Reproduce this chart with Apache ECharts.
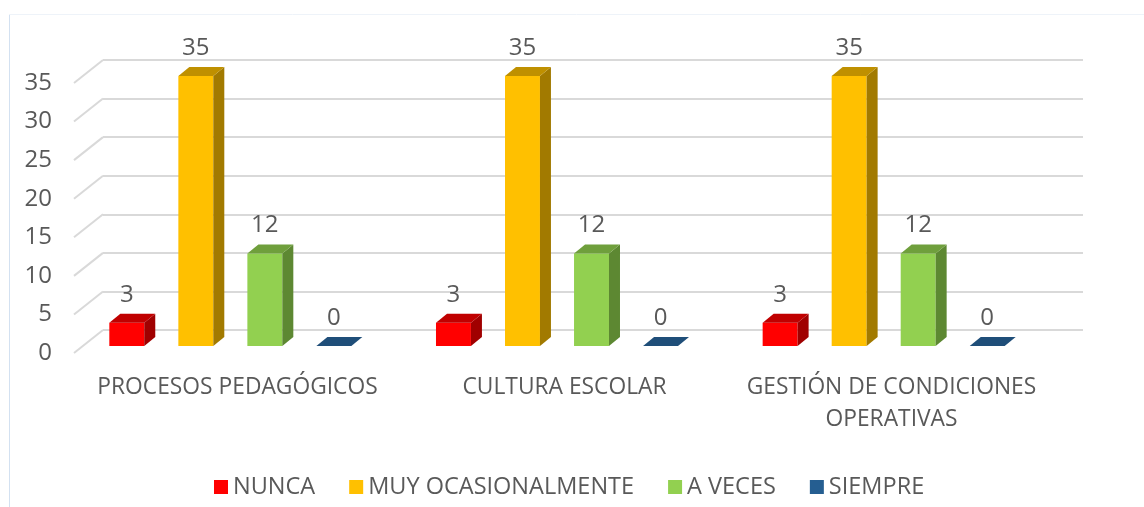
<!DOCTYPE html>
<html>
<head>
<meta charset="utf-8">
<script src="https://cdn.jsdelivr.net/npm/echarts@6/dist/echarts.min.js"></script>
<style>
html, body { margin: 0; padding: 0; background: #ffffff; }
#chart { width: 1144px; height: 507px; }
</style>
</head>
<body>
<div id="chart"></div>
<script>
const categories = ["PROCESOS PEDAGÓGICOS", "CULTURA ESCOLAR", "GESTIÓN DE CONDICIONES\nOPERATIVAS"];
const seriesNames = ["NUNCA", "MUY OCASIONALMENTE", "A VECES", "SIEMPRE"];
const nunca = [3, 3, 3];
const muyOcasionalmente = [35, 35, 35];
const aVeces = [12, 12, 12];
const siempre = [0, 0, 0];
const yTicks = [0, 5, 10, 15, 20, 25, 30, 35];

const textColor = "#595959";
const font = '"Open Sans"';

// front, top, side
const palette = [
    ["#ff0000", "#c00000", "#a00000"],
    ["#ffc000", "#bf9000", "#a27a00"],
    ["#92d050", "#6f9f3c", "#5d8832"],
    ["#255e91", "#1f4e79", "#1a4266"]
];

const chart = echarts.init(document.getElementById("chart"));

/*
   3D looking bar: front face, right side, top
*/
function barRenderer(idx){
    return function(params, api){
        const ci = api.value(0);
        const v = api.value(1);
        const top = api.coord([ci, v]);
        const base = api.coord([ci, 0]);
        const band = api.size([1, 0])[0];
        const w = band * 0.107;
        const cx = top[0] + (idx - 1.5) * band * 0.2113;
        const x0 = cx - w / 2, x1 = cx + w / 2;
        const yt = top[1], yb = base[1];
        const dx = 11, dy = 9;
        const c = palette[idx];
        const children = [];
        if (yb - yt > 0.5) {
            children.push({
                type: "rect",
                shape: { x: x0, y: yt, width: w, height: yb - yt },
                style: { fill: c[0] }
            });
            children.push({
                type: "polygon",
                shape: { points: [[x1, yt], [x1 + dx, yt - dy], [x1 + dx, yb - dy], [x1, yb]] },
                style: { fill: c[2] }
            });
        }
        children.push({
            type: "polygon",
            shape: { points: [[x0, yt], [x0 + dx, yt - dy], [x1 + dx, yt - dy], [x1, yt]] },
            style: { fill: c[1] }
        });
        children.push({
            type: "text",
            style: {
                text: String(v),
                x: cx,
                y: yt - 28,
                align: "center",
                verticalAlign: "middle",
                textAlign: "center",
                textVerticalAlign: "middle",
                fill: textColor,
                font: "24px " + font
            }
        });
        return { type: "group", children: children };
    };
}

const values = [nunca, muyOcasionalmente, aVeces, siempre];

const barSeries = values.map((arr, idx) => ({
    name: seriesNames[idx],
    type: "custom",
    xAxisIndex: 2,
    yAxisIndex: 2,
    itemStyle: { color: palette[idx][0] },
    renderItem: barRenderer(idx),
    encode: { x: 0, y: 1 },
    data: arr.map((v, i) => [i, v]),
    z: 3
}));

chart.setOption({

    animation: false,

    graphic: [
        {
            type: "line",
            shape: { x1: 9.5, y1: 14, x2: 9.5, y2: 507 },
            style: { stroke: "#d3e1f1", lineWidth: 1 }
        },
        {
            type: "line",
            shape: { x1: 9, y1: 14.5, x2: 1144, y2: 14.5 },
            style: { stroke: "#eef3f9", lineWidth: 1 }
        }
    ],

    legend: {
        data: seriesNames,
        left: 209,
        top: 470,
        icon: "rect",
        itemWidth: 14,
        itemHeight: 14,
        itemGap: 34,
        textStyle: {
            color: textColor,
            fontFamily: font,
            fontSize: 23.5
        }
    },

    grid: [
        // back wall
        { left: 103, right: 61, top: 60, height: 270 },
        // front plane, for axis labels
        { left: 74, right: 89, top: 83, height: 270 },
        // bar plane
        { left: 67, right: 97, top: 76, height: 270 }
    ],

    xAxis: [
        { gridIndex: 0, type: "category", data: categories, show: false },
        {
            gridIndex: 1,
            type: "category",
            data: categories,
            axisLine: { show: false },
            axisTick: { show: false },
            axisLabel: {
                color: textColor,
                fontFamily: font,
                fontSize: 22.8,
                lineHeight: 32,
                margin: 19,
                interval: 0
            }
        },
        { gridIndex: 2, type: "category", data: categories, show: false }
    ],

    yAxis: [
        {
            gridIndex: 0,
            type: "value",
            min: 0,
            max: 35,
            interval: 5,
            axisLabel: { show: false },
            axisLine: { show: false },
            axisTick: { show: false },
            splitLine: { lineStyle: { color: "#d9d9d9", width: 2 } }
        },
        {
            gridIndex: 1,
            type: "value",
            min: 0,
            max: 35,
            interval: 5,
            axisLine: { show: false },
            axisTick: { show: false },
            splitLine: { show: false },
            axisLabel: {
                color: textColor,
                fontFamily: font,
                fontSize: 24,
                margin: 22
            }
        },
        {
            gridIndex: 2,
            type: "value",
            min: 0,
            max: 35,
            show: false,
            splitLine: { show: false }
        }
    ],

    series: [
        {
            // side wall lines from the back grid to the front labels
            type: "custom",
            xAxisIndex: 0,
            yAxisIndex: 0,
            silent: true,
            encode: { x: 0, y: 1 },
            data: yTicks.map(v => [0, v]),
            renderItem: function(params, api){
                const y = api.coord([0, api.value(1)])[1];
                const x = params.coordSys.x;
                return {
                    type: "line",
                    shape: { x1: x, y1: y, x2: x - 29, y2: y + 23 },
                    style: { stroke: "#d9d9d9", lineWidth: 2 }
                };
            },
            z: 1
        }
    ].concat(barSeries)

});

window.addEventListener("resize", () => chart.resize());
</script>
</body>
</html>
